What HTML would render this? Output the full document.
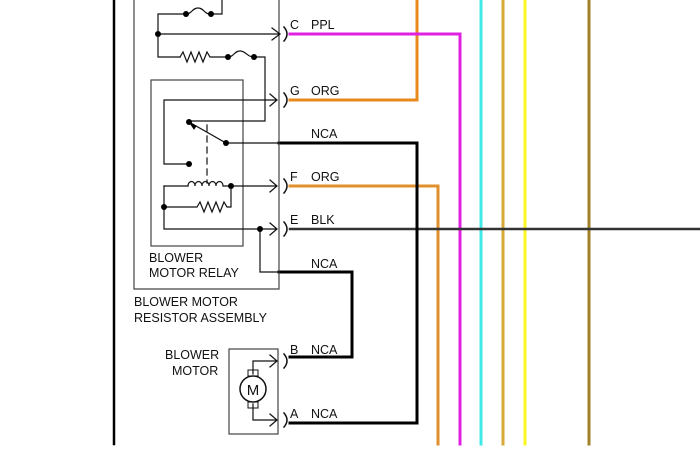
<!DOCTYPE html>
<html><head><style>html,body{margin:0;padding:0;background:#fff;}svg{display:block}</style></head>
<body>
<svg width="700" height="460" viewBox="0 0 700 460" xmlns="http://www.w3.org/2000/svg" font-family="Liberation Sans, sans-serif" font-size="12.5">
<g fill="none" stroke-linecap="square">
<path d="M417 0V100H290" stroke="#e8891c" stroke-width="3"/>
<path d="M290 34H460V444" stroke="#e020e0" stroke-width="3"/>
<path d="M290 186H438V444" stroke="#e0902c" stroke-width="3"/>
<line x1="481" y1="0" x2="481" y2="444" stroke="#40e8e8" stroke-width="3"/>
<line x1="503" y1="0" x2="503" y2="444" stroke="#d8a838" stroke-width="3"/>
<line x1="525" y1="0" x2="525" y2="444" stroke="#f8f820" stroke-width="3"/>
<line x1="589" y1="0" x2="589" y2="444" stroke="#a08028" stroke-width="3"/>
<line x1="290" y1="229" x2="700" y2="229" stroke="#333" stroke-width="2.5"/>
<path d="M279 143H417V423H290" stroke="#000" stroke-width="3"/>
<path d="M279 272H352V357H290" stroke="#000" stroke-width="3"/>
<line x1="114" y1="0" x2="114" y2="444" stroke="#000" stroke-width="2.5"/>
<path d="M134 0V289H279V0" stroke="#444" stroke-width="1.2"/>
<rect x="151" y="80" width="92" height="166" stroke="#444" stroke-width="1.2"/>
<rect x="229" y="349" width="49" height="85" stroke="#444" stroke-width="1.2"/>
<g stroke="#111" stroke-width="1.2">
<path d="M222 0V14H211M186 14H158V57H180"/>
<path d="M186 14c6 0 6 -6 12 -6s6 6 12 6"/>
<path d="M158 34H280M272 28l8 6l-8 6"/>
<path d="M180 57l3 -5l4 10l4 -10l4 10l4 -10l4 10l4 -10l3 5H228"/>
<path d="M228 57c6 0 6 -6 12 -6s7 6 14 6H265V121H189"/>
<path d="M164 100H277M270 94l7 6l-7 6M164 100V164H189"/>
<path d="M189 122L226 143H279"/>
<path d="M207 125V183" stroke-dasharray="6 5"/>
<path d="M164 186H188"/>
<path d="M188 186c0-6 7-6 7 0c0-6 7-6 7 0c0-6 7-6 7 0c0-6 7-6 7 0c0-6 7-6 7 0H277M270 180l7 6l-7 6"/>
<path d="M231 186V207H227l-3 -5l-4 10l-4 -10l-4 10l-4 -10l-4 10l-4 -10l-3 5H164"/>
<path d="M164 186V229H277M270 223l7 6l-7 6"/>
<path d="M260 229V272H280"/>
<path d="M253 374V361H277M270 355l7 6l-7 6M253 404V420H277M270 414l7 6l-7 6"/>
</g>
<g stroke="#111" stroke-width="1.5">
<path d="M284 27q6 7 0 14"/>
<path d="M284 93q6 7 0 14"/>
<path d="M284 179q6 7 0 14"/>
<path d="M284 222q6 7 0 14"/>
<path d="M284 354q6 7 0 14"/>
<path d="M284 413q6 7 0 14"/>
</g>
<path d="M196 126l-6 -3l4 6z" fill="#000" stroke="#000"/>
<circle cx="253" cy="389" r="13" stroke="#111" stroke-width="1.5"/>
<rect x="248" y="370" width="10" height="6" stroke="#111"/>
<rect x="248" y="402" width="10" height="6" stroke="#111"/>
</g>
<g fill="#000">
<circle cx="186" cy="14" r="3"/><circle cx="211" cy="14" r="3"/>
<circle cx="158" cy="34" r="3"/><circle cx="228" cy="57" r="3"/><circle cx="254" cy="57" r="3"/>
<circle cx="189" cy="122" r="3"/><circle cx="226" cy="143" r="3"/><circle cx="189" cy="164" r="3"/>
<circle cx="231" cy="186" r="3"/><circle cx="164" cy="207" r="3"/><circle cx="260" cy="229" r="3"/>
</g>
<g fill="#111">
<text x="290" y="29">C</text><text x="311" y="29">PPL</text>
<text x="290" y="95">G</text><text x="311" y="95">ORG</text>
<text x="311" y="138">NCA</text>
<text x="290" y="181">F</text><text x="311" y="181">ORG</text>
<text x="290" y="224">E</text><text x="311" y="224">BLK</text>
<text x="311" y="268">NCA</text>
<text x="290" y="354">B</text><text x="311" y="354">NCA</text>
<text x="290" y="418">A</text><text x="311" y="418">NCA</text>
<text x="149" y="262">BLOWER</text><text x="149" y="277">MOTOR RELAY</text>
<text x="134" y="306">BLOWER MOTOR</text><text x="134" y="322">RESISTOR ASSEMBLY</text>
<text x="165" y="359">BLOWER</text><text x="172" y="375">MOTOR</text>
<text x="253" y="395" text-anchor="middle" font-size="15">M</text>
</g>
</svg>
</body></html>
